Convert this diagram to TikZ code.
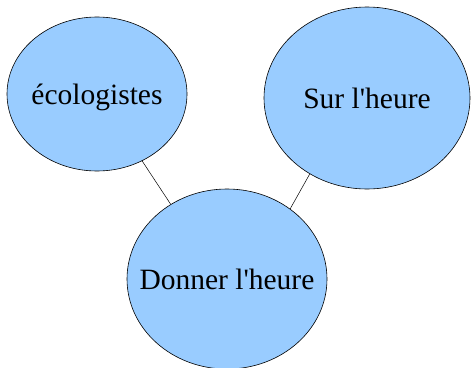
\documentclass[tikz,border=0pt]{standalone}
\usepackage{fontspec}
\setmainfont{Liberation Serif}
\usepackage{tikz}
\usetikzlibrary{shapes.geometric,calc}
\definecolor{bubblefill}{RGB}{153,204,255}

\begin{document}
\begin{tikzpicture}[x=1pt, y=-1pt,
    bubble/.style={ellipse, draw, fill=bubblefill, line width=0.6pt, inner sep=0pt,
      text height=20pt, text depth=0pt, font=\fontsize{29.5}{32}\selectfont}]
    \useasboundingbox (0,0) rectangle (471,367);

    %coordinates
    \coordinate (ECO) at (97,94);
    \coordinate (SUR) at (367,98);
    \coordinate (DON) at (227,279);

    %nodes
    \node[bubble, minimum width=180pt, minimum height=154pt] (eco) at (ECO) {\makebox[0pt]{écologistes}};
    \node[bubble, minimum width=206pt, minimum height=182pt] (sur) at (SUR) {\makebox[0pt]{Sur l\textquotesingle heure}};
    \node[bubble, minimum width=200pt, minimum height=180pt] (don) at (DON) {\makebox[0pt]{Donner l\textquotesingle heure}};

    %edges
    \draw[line width=0.5pt] (eco.304.5) -- (don.127.2);
    \draw[line width=0.5pt] (sur.233.1) -- (don.48.9);
  \end{tikzpicture}
\end{document}
